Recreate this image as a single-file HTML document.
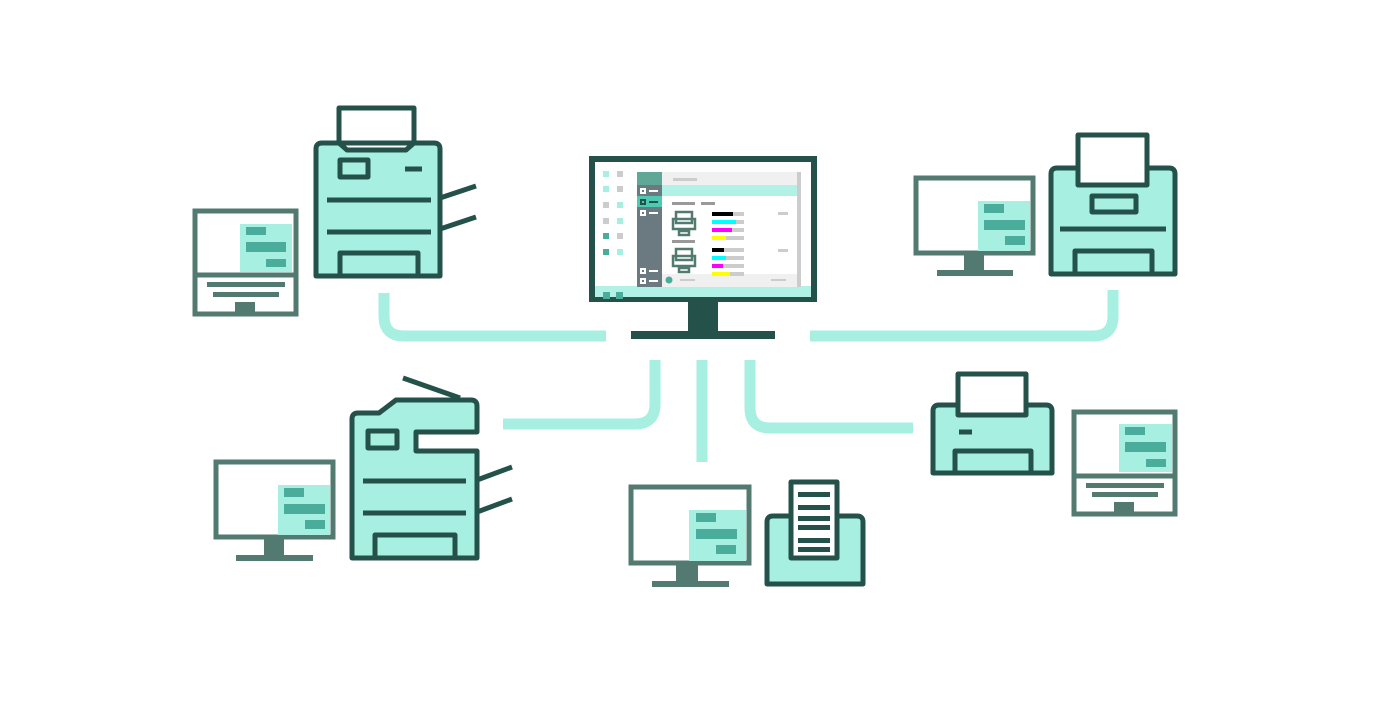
<!DOCTYPE html>
<html><head><style>html,body{margin:0;padding:0;background:#fff}svg{display:block}</style></head>
<body>
<svg width="1380" height="710" viewBox="0 0 1380 710" xmlns="http://www.w3.org/2000/svg">
<defs>
<style>
.d{stroke:#24524a;stroke-width:5;fill:#a6efe1;stroke-linejoin:round}
.dl{stroke:#24524a;stroke-width:5;fill:none}
.c{stroke:#a6efe1;stroke-width:11;fill:none}
.m{stroke:#527a70;stroke-width:5;fill:#fff}
.ms{fill:#527a70}
.p{fill:#a6efe1}
.g{fill:#4aad9b}
</style>
</defs>
<!-- connectors -->
<path class="c" d="M384,293 V316 Q384,336 404,336 H606"/>
<path class="c" d="M810,336 H1093 Q1113,336 1113,316 V290"/>
<path class="c" d="M503,424 H635 Q655,424 655,404 V360"/>
<path class="c" d="M702,360 V462"/>
<path class="c" d="M750,360 V408 Q750,428 770,428 H913"/>

<!-- central monitor -->
<rect x="592" y="159" width="222" height="140" fill="#fff" stroke="#24524a" stroke-width="6"/>
<rect x="595" y="286" width="216" height="11" fill="#b2f2e6"/>
<rect x="603" y="292" width="7" height="7" class="g"/><rect x="616" y="292" width="7" height="7" class="g"/>
<rect x="688" y="302" width="30" height="30" fill="#24524a"/>
<rect x="631" y="331" width="144" height="8" fill="#24524a"/>
<!-- left icons -->
<g>
<rect x="603" y="171" width="6" height="6" fill="#a6efe1"/><rect x="617" y="171" width="6" height="6" fill="#ccc"/>
<rect x="603" y="186" width="6" height="6" fill="#a6efe1"/><rect x="617" y="186" width="6" height="6" fill="#ccc"/>
<rect x="603" y="202" width="6" height="6" fill="#ccc"/><rect x="617" y="202" width="6" height="6" fill="#a6efe1"/>
<rect x="603" y="218" width="6" height="6" fill="#ccc"/><rect x="617" y="218" width="6" height="6" fill="#a6efe1"/>
<rect x="603" y="233" width="6" height="6" fill="#4aad9b"/><rect x="617" y="233" width="6" height="6" fill="#ccc"/>
<rect x="603" y="249" width="6" height="6" fill="#4aad9b"/><rect x="617" y="249" width="6" height="6" fill="#a6efe1"/>
</g>
<!-- window -->
<rect x="637" y="172" width="163" height="115" fill="#f0f0f0"/>
<rect x="797" y="172" width="4" height="115" fill="#ccc"/>
<rect x="637" y="172" width="25" height="115" fill="#6b7a80"/>
<rect x="637" y="172" width="25" height="13" fill="#5fa898"/>
<rect x="637" y="196" width="25" height="11" fill="#4ecab3"/>
<rect x="662" y="185" width="135" height="11" fill="#b2f2e6"/>
<rect x="662" y="196" width="135" height="78" fill="#fff"/>
<rect x="673" y="178" width="24" height="3" fill="#ccc"/>
<rect x="672" y="202" width="23" height="3" fill="#999"/><rect x="701" y="202" width="14" height="3" fill="#999"/>
<rect x="672" y="240" width="23" height="3" fill="#999"/>
<g fill="none" stroke="#fff" stroke-width="2"><rect x="641" y="189" width="4" height="4"/><rect x="641" y="200" width="4" height="4" stroke="#24524a"/><rect x="641" y="211" width="4" height="4"/><rect x="641" y="269" width="4" height="4"/><rect x="641" y="279" width="4" height="4"/></g>
<g fill="#fff"><rect x="649" y="190" width="9" height="2"/><rect x="649" y="212" width="9" height="2"/><rect x="649" y="270" width="9" height="2"/><rect x="649" y="280" width="9" height="2"/></g>
<rect x="649" y="201" width="9" height="2" fill="#24524a"/>
<circle cx="669" cy="280" r="3.5" fill="#4aad9b"/>
<rect x="680" y="279" width="15" height="2" fill="#ccc"/><rect x="771" y="279" width="15" height="2" fill="#ccc"/>
<g fill="none" stroke="#527a70" stroke-width="2.5">
<rect x="676" y="212" width="16" height="11"/><rect x="673" y="219" width="22" height="10"/><rect x="679" y="231" width="10" height="4"/>
<rect x="676" y="249" width="16" height="11"/><rect x="673" y="256" width="22" height="10"/><rect x="679" y="268" width="10" height="4"/>
</g>
<g>
<rect x="712" y="212" width="32" height="4" fill="#ccc"/><rect x="712" y="212" width="21" height="4" fill="#000"/>
<rect x="712" y="220" width="32" height="4" fill="#ccc"/><rect x="712" y="220" width="24" height="4" fill="#0ff"/>
<rect x="712" y="228" width="32" height="4" fill="#ccc"/><rect x="712" y="228" width="20" height="4" fill="#f0f"/>
<rect x="712" y="236" width="32" height="4" fill="#ccc"/><rect x="712" y="236" width="14" height="4" fill="#ff0"/>
<rect x="712" y="248" width="32" height="4" fill="#ccc"/><rect x="712" y="248" width="12" height="4" fill="#000"/>
<rect x="712" y="256" width="32" height="4" fill="#ccc"/><rect x="712" y="256" width="14" height="4" fill="#0ff"/>
<rect x="712" y="264" width="32" height="4" fill="#ccc"/><rect x="712" y="264" width="11" height="4" fill="#f0f"/>
<rect x="712" y="272" width="32" height="4" fill="#ccc"/><rect x="712" y="272" width="18" height="4" fill="#ff0"/>
<rect x="778" y="212" width="10" height="3" fill="#ccc"/><rect x="778" y="249" width="10" height="3" fill="#ccc"/>
</g>

<!-- top-left printer -->
<path class="d" d="M339,108 H414 V143 H339 Z" fill="#fff" style="fill:#fff"/>
<path class="d" d="M322,143 H339 L347,150 H406 L414,143 H434 Q440,143 440,149 V276 H316 V149 Q316,143 322,143 Z"/>
<rect x="340" y="160" width="28" height="17" class="d"/>
<line x1="405" y1="169" x2="422" y2="169" class="dl"/>
<line x1="327" y1="200" x2="431" y2="200" class="dl"/>
<line x1="327" y1="232" x2="431" y2="232" class="dl"/>
<rect x="340" y="253" width="78" height="23" class="d"/>
<line x1="440" y1="198" x2="476" y2="186" class="dl"/>
<line x1="440" y1="229" x2="476" y2="217" class="dl"/>
<!-- left laptop -->
<rect x="195" y="211" width="101" height="103" class="m"/>
<line x1="195" y1="275" x2="296" y2="275" stroke="#527a70" stroke-width="5"/>
<rect x="240" y="224" width="52" height="48" class="p"/>
<rect x="246" y="227" width="20" height="8" class="g"/><rect x="246" y="242" width="40" height="10" class="g"/><rect x="266" y="259" width="20" height="8" class="g"/>
<rect x="207" y="282" width="78" height="5" class="ms"/><rect x="213" y="292" width="66" height="5" class="ms"/><rect x="235" y="302" width="20" height="12" class="ms"/>

<!-- top right -->
<rect x="916" y="178" width="117" height="75" class="m"/>
<rect x="978" y="201" width="52" height="50" class="p"/>
<rect x="984" y="204" width="20" height="9" class="g"/><rect x="984" y="220" width="41" height="10" class="g"/><rect x="1005" y="236" width="20" height="9" class="g"/>
<rect x="964" y="255" width="20" height="15" class="ms"/><rect x="937" y="270" width="76" height="6" class="ms"/>
<path class="d" d="M1057,168 H1169 Q1175,168 1175,174 V274 H1051 V174 Q1051,168 1057,168 Z"/>
<rect x="1078" y="135" width="69" height="50" class="d" style="fill:#fff"/>
<rect x="1092" y="196" width="44" height="16" class="d"/>
<line x1="1060" y1="229" x2="1166" y2="229" class="dl"/>
<rect x="1075" y="251" width="77" height="23" class="d"/>

<!-- bottom-left -->
<rect x="216" y="462" width="117" height="75" class="m"/>
<rect x="278" y="485" width="52" height="50" class="p"/>
<rect x="284" y="488" width="20" height="9" class="g"/><rect x="284" y="504" width="41" height="10" class="g"/><rect x="305" y="520" width="20" height="9" class="g"/>
<rect x="264" y="539" width="20" height="16" class="ms"/><rect x="236" y="555" width="77" height="6" class="ms"/>
<path class="d" d="M358,413 H379 L396,400 H471 Q477,400 477,406 V432 H416 V451 H477 V558 H352 V419 Q352,413 358,413 Z"/>
<rect x="368" y="431" width="29" height="17" class="d"/>
<line x1="403" y1="378" x2="460" y2="398" class="dl"/>
<line x1="363" y1="481" x2="466" y2="481" class="dl"/>
<line x1="363" y1="513" x2="466" y2="513" class="dl"/>
<rect x="375" y="535" width="80" height="23" class="d"/>
<line x1="477" y1="480" x2="512" y2="467" class="dl"/>
<line x1="477" y1="512" x2="512" y2="499" class="dl"/>

<!-- bottom center -->
<rect x="631" y="487" width="118" height="76" class="m"/>
<rect x="689" y="510" width="57" height="51" class="p"/>
<rect x="696" y="513" width="20" height="9" class="g"/><rect x="696" y="529" width="41" height="10" class="g"/><rect x="716" y="545" width="20" height="9" class="g"/>
<rect x="676" y="565" width="22" height="17" class="ms"/><rect x="652" y="581" width="77" height="6" class="ms"/>
<path class="d" d="M773,516 H857 Q863,516 863,522 V584 H767 V522 Q767,516 773,516 Z"/>
<rect x="791" y="482" width="46" height="76" class="d" style="fill:#fff"/>
<g fill="#24524a"><rect x="798" y="492" width="32" height="5"/><rect x="798" y="505" width="32" height="5"/><rect x="798" y="516" width="32" height="5"/><rect x="798" y="525" width="32" height="5"/><rect x="798" y="538" width="32" height="5"/><rect x="798" y="547" width="32" height="5"/></g>

<!-- right printer -->
<path class="d" d="M939,405 H1046 Q1052,405 1052,411 V473 H933 V411 Q933,405 939,405 Z"/>
<rect x="958" y="374" width="68" height="41" class="d" style="fill:#fff"/>
<line x1="959" y1="432" x2="972" y2="432" class="dl"/>
<rect x="955" y="451" width="76" height="22" class="d"/>
<!-- right laptop -->
<rect x="1074" y="412" width="101" height="102" class="m"/>
<line x1="1074" y1="476" x2="1175" y2="476" stroke="#527a70" stroke-width="5"/>
<rect x="1119" y="424" width="53" height="48" class="p"/>
<rect x="1125" y="427" width="20" height="8" class="g"/><rect x="1125" y="442" width="41" height="10" class="g"/><rect x="1146" y="459" width="20" height="8" class="g"/>
<rect x="1086" y="483" width="78" height="5" class="ms"/><rect x="1092" y="492" width="66" height="5" class="ms"/><rect x="1114" y="502" width="20" height="12" class="ms"/>
</svg>
</body></html>
